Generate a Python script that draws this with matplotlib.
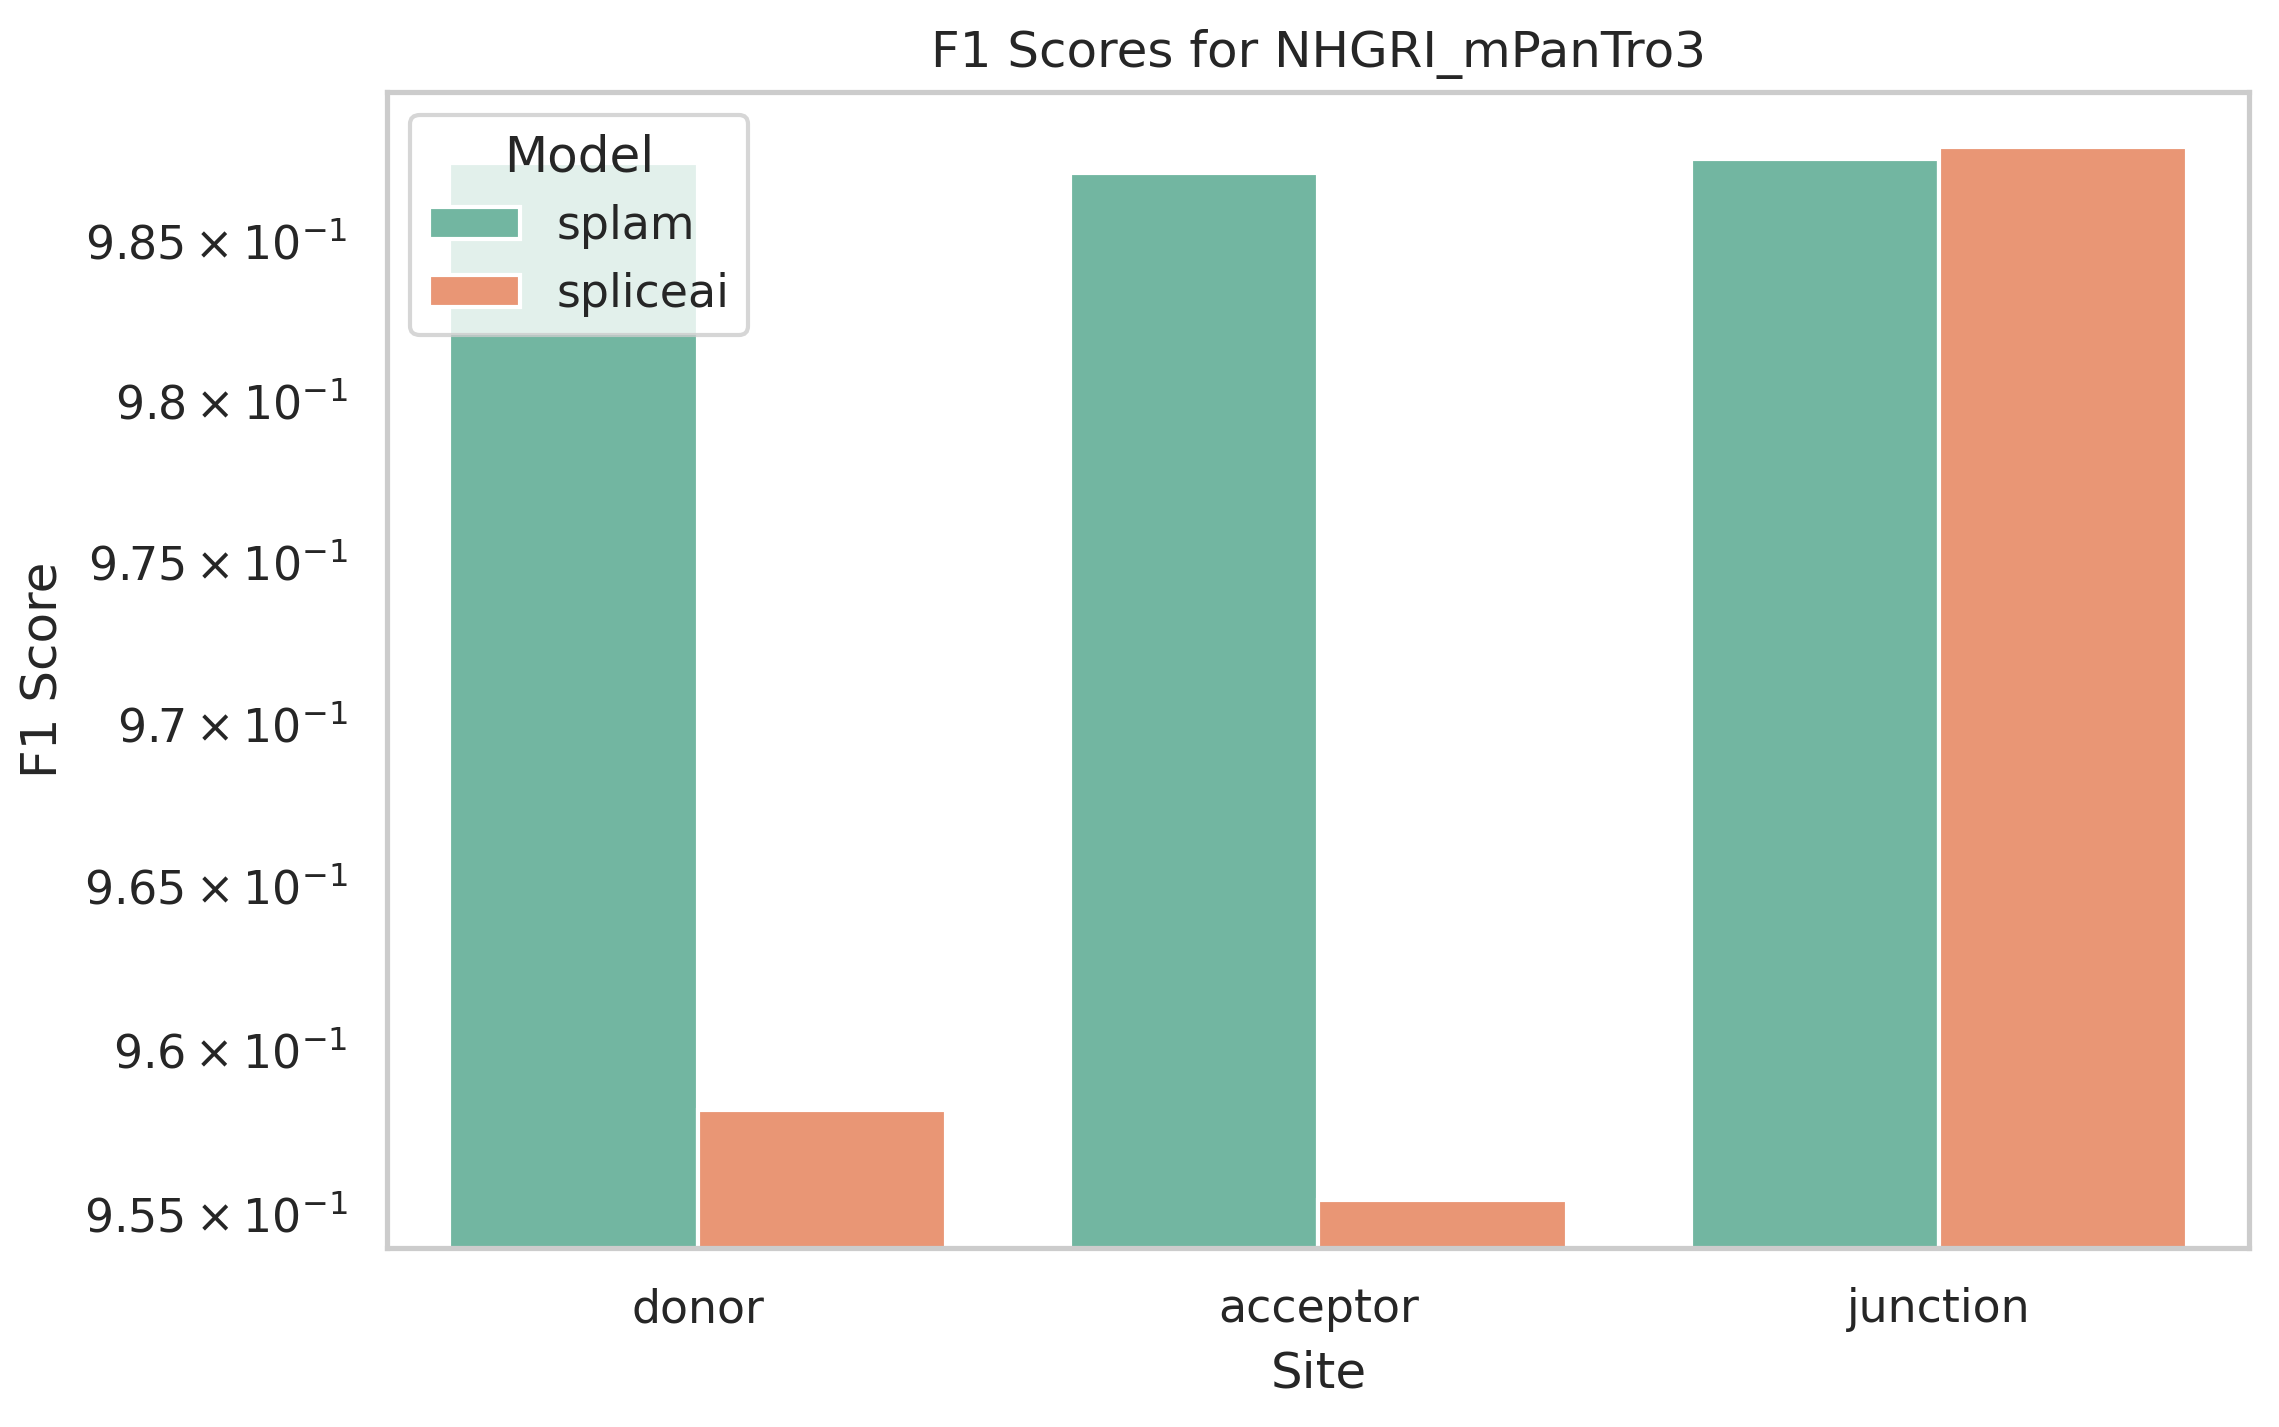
import matplotlib
matplotlib.use('Agg')
import matplotlib.pyplot as plt
import seaborn as sns
import pandas as pd

sites = ['donor', 'acceptor', 'junction']
models = ['splam', 'spliceai']
splam_f1 = [0.98747, 0.98716, 0.98761]
spliceai_f1 = [0.95820, 0.95545, 0.98797]
tick_vals = [0.955, 0.96, 0.965, 0.97, 0.975, 0.98, 0.985]
tick_labels = ['9.55', '9.6', '9.65', '9.7', '9.75', '9.8', '9.85']

df = pd.DataFrame({
    'Site': sites * 2,
    'Model': ['splam'] * 3 + ['spliceai'] * 3,
    'F1 Score': splam_f1 + spliceai_f1,
})

sns.set_theme(style='whitegrid')
fig = plt.figure(figsize=(2279 / 300, 1427 / 300), dpi=300)
ax = fig.add_axes([0.170, 0.1255, 0.817, 0.81])
sns.barplot(data=df, x='Site', y='F1 Score', hue='Model', palette='Set2', ax=ax)
ax.set_yscale('log')
ax.set_ylim(0.9540, 0.9897)
ax.yaxis.set_major_locator(matplotlib.ticker.FixedLocator(tick_vals))
ax.yaxis.set_minor_locator(matplotlib.ticker.NullLocator())
ax.set_yticklabels([r'$\mathdefault{%s\times10^{-1}}$' % t for t in tick_labels])
ax.grid(False)
ax.set_title('F1 Scores for NHGRI_mPanTro3')
ax.legend(title='Model', loc='upper left')
fig.savefig('out.png', dpi=300)
